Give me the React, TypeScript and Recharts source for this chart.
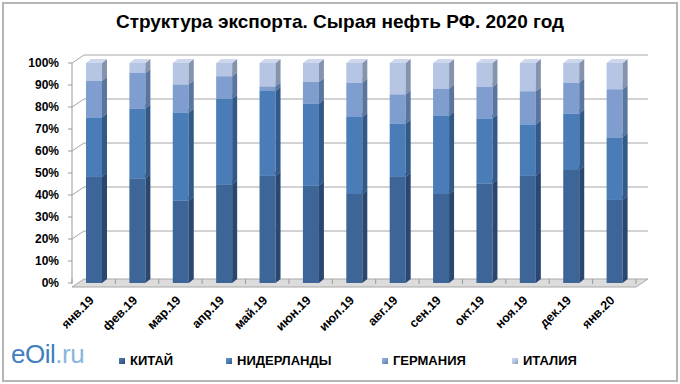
import React from "react";
import { BarChart, Bar, XAxis, YAxis, CartesianGrid } from "recharts";

const months = ["янв.19", "фев.19", "мар.19", "апр.19", "май.19", "июн.19", "июл.19", "авг.19", "сен.19", "окт.19", "ноя.19", "дек.19", "янв.20"];
const china = [48.3, 47.6, 37.5, 44.9, 48.8, 44.3, 40.5, 48.3, 40.5, 45.3, 48.8, 51.4, 37.8];
const netherlands = [27.0, 31.7, 40.0, 38.9, 38.5, 37.3, 35.0, 24.2, 35.5, 29.5, 23.3, 25.6, 28.4];
const germany = [16.6, 16.2, 12.8, 10.2, 2.1, 9.8, 15.6, 13.3, 12.4, 14.3, 15.1, 14.1, 21.9];
const italy = [8.1, 4.5, 9.7, 6.0, 10.6, 8.6, 8.9, 14.2, 11.6, 10.9, 12.8, 8.9, 11.9];
const yTicks = [0, 0.1, 0.2, 0.3, 0.4, 0.5, 0.6, 0.7, 0.8, 0.9, 1];

const series = [
  { key: "КИТАЙ", front: "#3d6597", side: "#2a4770", top: "#5a7fae" },
  { key: "НИДЕРЛАНДЫ", front: "#4a7cb8", side: "#325987", top: "#6a94c8" },
  { key: "ГЕРМАНИЯ", front: "#7f9ecf", side: "#5b769e", top: "#9db5dc" },
  { key: "ИТАЛИЯ", front: "#b6c5e3", side: "#8593ad", top: "#cdd8ec" },
];

const data = months.map((m, i) => ({
  month: m,
  "КИТАЙ": china[i],
  "НИДЕРЛАНДЫ": netherlands[i],
  "ГЕРМАНИЯ": germany[i],
  "ИТАЛИЯ": italy[i],
}));

const DX = 5;
const DY = 4;
const WX = 12;
const WY = 8;

// fake 3D column: front, right side, top
const makeShape = (s: typeof series[number]) => (props: any) => {
  const { x, y, width, height } = props;
  if (!height || height <= 0) return <g />;
  return (
    <g>
      <rect x={x} y={y} width={width} height={height} fill={s.front} />
      <polygon
        points={`${x + width},${y} ${x + width + DX},${y - DY} ${x + width + DX},${y + height - DY} ${x + width},${y + height}`}
        fill={s.side}
      />
      <polygon
        points={`${x},${y} ${x + DX},${y - DY} ${x + width + DX},${y - DY} ${x + width},${y}`}
        fill={s.top}
      />
    </g>
  );
};

const gridLine = (props: any) => {
  const { x1, y1, x2, y2, index } = props;
  const isFloor = index === 0;
  return (
    <g key={`g-${y1}`}>
      {isFloor && (
        <polygon
          points={`${x1},${y1 + 4} ${x2},${y1 + 4} ${x2 + WX},${y1 + 4 - WY} ${x1 + WX},${y1 + 4 - WY}`}
          fill="#dcdcdc"
          stroke="#a8a8a8"
        />
      )}
      {!isFloor && <line x1={x1} y1={y1} x2={x1 + WX} y2={y1 - WY} stroke="#a6a6a6" />}
      {!isFloor && <line x1={x1 + WX} y1={y1 - WY} x2={x2 + WX} y2={y2 - WY} stroke="#a6a6a6" />}
    </g>
  );
};

const MonthTick = (props: any) => {
  const { x, y, payload } = props;
  const half = payload.offset || 21.5;
  const ax = x + 1;
  const ay = y + 10;
  return (
    <g>
      <line x1={x - half} y1={y - 12} x2={x - half} y2={y - 7} stroke="#999" />
      {payload.index === months.length - 1 && (
        <line x1={x + half} y1={y - 12} x2={x + half} y2={y - 7} stroke="#999" />
      )}
      <text
        x={ax}
        y={ay}
        transform={`rotate(-45, ${ax}, ${ay})`}
        textAnchor="end"
        fontSize={12.5}
        fontWeight="bold"
        fontFamily="Liberation Sans, Arial, sans-serif"
        fill="#000"
      >
        {payload.value}
      </text>
    </g>
  );
};

export default function App() {
  return (
    <div style={{ position: "absolute", left: 0, top: 0, width: 680, height: 384, background: "#fff" }}>
      <div
        style={{
          position: "absolute",
          left: 2,
          top: 2,
          width: 672,
          height: 376,
          border: "2px solid #b5b5b5",
        }}
      />
      <div
        style={{
          position: "absolute",
          left: 0,
          top: 11,
          width: 680,
          textAlign: "center",
          fontFamily: "Liberation Sans, Arial, sans-serif",
          fontWeight: "bold",
          fontSize: 19,
          color: "#000",
        }}
      >
        Структура экспорта. Сырая нефть РФ. 2020 год
      </div>
      <div style={{ position: "absolute", left: 0, top: 0 }}>
        <BarChart
          width={680}
          height={384}
          data={data}
          stackOffset="expand"
          margin={{ top: 63, right: 44, bottom: 71, left: 12 }}
          barSize={16}
        >
          <CartesianGrid vertical={false} horizontal={gridLine} />
          <YAxis
            ticks={yTicks}
            domain={[0, 1]}
            width={60}
            axisLine={{ stroke: "#999" }}
            tickLine={{ stroke: "#999" }}
            tickSize={4}
            tickMargin={9}
            tickFormatter={(v: number) => `${Math.round(v * 100)}%`}
            tick={{ fontSize: 12, fontWeight: "bold", fill: "#000", fontFamily: "Liberation Sans, Arial, sans-serif" }}
          />
          <XAxis
            dataKey="month"
            height={30}
            axisLine={false}
            tickLine={false}
            interval={0}
            tick={<MonthTick />}
          />
          {series.map((s) => (
            <Bar
              key={s.key}
              dataKey={s.key}
              stackId="a"
              fill={s.front}
              shape={makeShape(s)}
              isAnimationActive={false}
            />
          ))}
        </BarChart>
      </div>
      <div
        style={{
          position: "absolute",
          left: 11,
          top: 339,
          fontFamily: "Liberation Sans, Arial, sans-serif",
          fontSize: 26,
          letterSpacing: -0.5,
        }}
      >
        <span style={{ color: "#3f7fc0" }}>eOil</span>
        <span style={{ color: "#8ab6de" }}>.ru</span>
      </div>
      {[
        { left: 119, s: series[0] },
        { left: 226, s: series[1] },
        { left: 382, s: series[2] },
        { left: 512, s: series[3] },
      ].map(({ left, s }) => (
        <div
          key={s.key}
          style={{
            position: "absolute",
            left,
            top: 353,
            display: "flex",
            alignItems: "center",
            fontFamily: "Liberation Sans, Arial, sans-serif",
            fontWeight: "bold",
            fontSize: 13,
            color: "#000",
          }}
        >
          <span
            style={{
              display: "inline-block",
              width: 6,
              height: 6,
              marginRight: 5,
              background: `linear-gradient(135deg, ${s.top}, ${s.front} 50%, ${s.side})`,
            }}
          />
          {s.key}
        </div>
      ))}
    </div>
  );
}
